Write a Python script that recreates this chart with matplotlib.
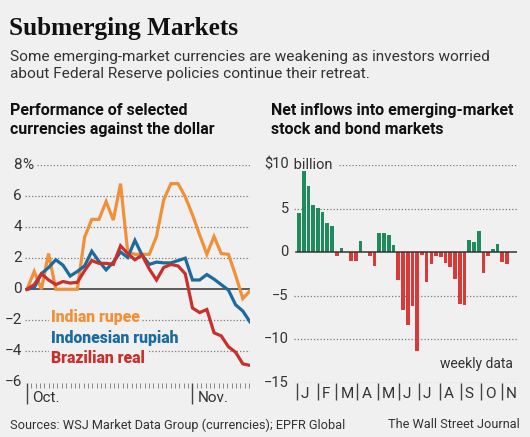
import matplotlib
matplotlib.use("Agg")
import matplotlib.pyplot as plt
import numpy as np

W, H = 530, 437
BG = "#f0f0f0"
C_ORANGE = "#f0913a"
C_BLUE = "#1d6a9c"
C_RED = "#c8302c"
C_GREEN = "#1f8a5c"
C_BAR_RED = "#d83a3a"
C_GRID = "#7a7a7a"
C_TEXT = "#333333"

NARROW = ["Roboto", "DejaVu Sans"]

# left panel: % change vs dollar, trading days from Oct 1
rupee = [0, 1.15, 0, 2.3, 0, 0, 0, 0, 3.35, 4.5, 4.5, 5.65, 4.45, 6.8, 2.4, 2.25,
         2.25, 2.25, 3.4, 5.75, 6.8, 6.8, 5.95, 4.8, 3.5, 2.25, 3.4, 2.3, 2.25, 0.9,
         -0.6, -0.1]
rupiah = [0, 0.1, 1.0, 1.4, 1.9, 1.55, 0.85, 1.15, 1.5, 2.45, 1.8, 1.25, 1.75, 2.4,
          2.05, 3.15, 2.2, 1.6, 1.75, 1.7, 1.7, 1.85, 2.0, 0.6, 0.6, 0.95, 0.65, 0.3,
          -0.05, -1.0, -1.4, -2.1]
real = [0, 0.3, 1.0, 0.6, 0.3, 0.5, 0.4, 0.45, 1.2, 1.85, 1.67, 1.67, 1.6, 2.8, 2.3,
        1.9, 2.2, 1.3, 0.6, 1.4, 1.6, 1.5, 1.0, -1.2, -1.5, -1.3, -2.8, -3.0, -3.7,
        -4.05, -4.8, -4.9]
left_yticks = [8, 6, 4, 2, 0, -2, -4, -6]
oct_idx, nov_idx = 0, 23

# right panel: weekly net inflows, $ billion
flows = [4.5, 9.3, 7.6, 5.4, 5.1, 4.6, 3.4, 3.0, -0.4, 0.5, 0, -1.0, -1.0, 1.3, 0,
         -0.4, -1.6, 2.2, 2.2, 2.0, 0.8, -3.2, -6.6, -8.3, -6.2, -11.3, -0.3, -3.4,
         -1.4, -0.4, -0.6, -1.2, -1.7, -3.1, -5.9, -6.0, 1.4, 1.2, 2.4, -2.4, -0.4,
         0.4, 0.9, -1.1, -1.4]
right_yticks = [10, 5, 0, -5, -10, -15]
months = ["J", "F", "M", "A", "M", "J", "J", "A", "S", "O", "N"]
month_start_day = [0, 31, 59, 90, 120, 151, 181, 212, 243, 273, 304]


def box(x0, y0, x1, y1):
    """pixel box (top-left origin) -> figure fraction rect"""
    return [x0 / W, 1 - y1 / H, (x1 - x0) / W, (y1 - y0) / H]


fig = plt.figure(figsize=(W / 100, H / 100), dpi=100, facecolor=BG)

fig.text(9 / W, 1 - 17 / H, "Submerging Markets", family="Liberation Serif",
         weight="bold", fontsize=18.2, va="top", color="#111111")
fig.text(10 / W, 1 - 50 / H,
         "Some emerging-market currencies are weakening as investors worried\n"
         "about Federal Reserve policies continue their retreat.",
         family=NARROW, fontsize=11.1, va="top", color=C_TEXT, linespacing=1.3)
fig.text(10 / W, 1 - 103 / H, "Performance of selected\ncurrencies against the dollar",
         family=NARROW, weight="bold", fontsize=11.5, va="top", color="#111111",
         linespacing=1.35)
fig.text(271 / W, 1 - 103 / H, "Net inflows into emerging-market\nstock and bond markets",
         family=NARROW, weight="bold", fontsize=11.5, va="top", color="#111111",
         linespacing=1.35)

# ---- left: currencies
ax = fig.add_axes(box(25, 165, 250, 382.5))
ax.set_facecolor("none")
x = np.arange(len(rupee))
ax.set_xlim(-0.28, len(rupee) - 1)
ax.set_ylim(-6, 8)
for v in left_yticks[:-1]:
    if v == 0:
        continue
    start = 0.055 if v == 8 else 0.0
    ax.axhline(v, xmin=start, xmax=1, color=C_GRID, linewidth=0.9,
               linestyle=(0, (1, 1.6)), zorder=0)
ax.axhline(0, color="#333333", linewidth=1.1, zorder=1)
ax.axhline(-6, color="#888888", linewidth=0.6, zorder=1)
for v in left_yticks:
    ax.text(-0.013, v, f"{v}".replace("-", "\u2212"), transform=ax.get_yaxis_transform(),
            ha="right", va="center", fontsize=11, family=NARROW, color=C_TEXT)
ax.text(-0.013, 8, "%", transform=ax.get_yaxis_transform(), ha="left", va="center",
        fontsize=11, family=NARROW, color=C_TEXT)

for series, color in ((rupee, C_ORANGE), (rupiah, C_BLUE), (real, C_RED)):
    ax.plot(x, series, color=color, linewidth=2.3, solid_joinstyle="miter", zorder=3)

for name, color, yv in (("Indian rupee", C_ORANGE, -1.8), ("Indonesian rupiah", C_BLUE, -3.15),
                        ("Brazilian real", C_RED, -4.45)):
    ax.text(3.4, yv, name, color=color, fontsize=11.3, weight="heavy", family=NARROW,
            va="center", bbox=dict(facecolor=BG, edgecolor="none", pad=1.5), zorder=4)

for s in ax.spines.values():
    s.set_visible(False)
ax.set_yticks([])
ax.set_xticks([oct_idx, nov_idx])
ax.set_xticklabels([])
ax.set_xticks(np.arange(0, len(rupee) - 0.9, nov_idx / 38), minor=True)
ax.tick_params(axis="x", which="major", length=15, width=1.0, color="#444444", direction="out")
ax.tick_params(axis="x", which="minor", length=3.5, width=0.6, color="#777777", direction="out")
for idx, lab in ((oct_idx, "Oct."), (nov_idx, "Nov.")):
    ax.annotate(lab, (idx, -6), xytext=(4, -6), textcoords="offset points",
                ha="left", va="top", fontsize=11, family=NARROW, color=C_TEXT)

# ---- right: weekly flows
bx = fig.add_axes(box(294.2, 165, 516.5, 383))
bx.set_facecolor("none")
weeks = np.arange(len(flows))
bx.set_xlim(-1, len(flows) + 1)
bx.set_ylim(-15, 10)
for v in right_yticks:
    if v == 0:
        continue
    start = 0.2 if v == 10 else 0.0
    bx.axhline(v, xmin=start, xmax=1, color=C_GRID, linewidth=0.9,
               linestyle=(0, (1, 1.6)), zorder=0)
colors = [C_GREEN if f >= 0 else C_BAR_RED for f in flows]
bx.bar(weeks, flows, width=0.78, color=colors, zorder=2)
bx.axhline(0, xmin=0.01, color="#333333", linewidth=1.1, zorder=3)
for v in right_yticks:
    lab = "$10" if v == 10 else f"{v}".replace("-", "\u2212")
    bx.text(-0.025, v, lab, transform=bx.get_yaxis_transform(), ha="right", va="center",
            fontsize=10.5, family=NARROW, color=C_TEXT)
bx.text(-0.02, 10, " billion", transform=bx.get_yaxis_transform(), ha="left",
        va="center", fontsize=10.5, family=NARROW, color=C_TEXT)
bx.text(0.985, -12.8, "weekly data", transform=bx.get_yaxis_transform(),
        ha="right", va="center", fontsize=10, family=NARROW, color=C_TEXT)

for s in bx.spines.values():
    s.set_visible(False)
bx.set_yticks([])
mticks = [d / 7 - 0.5 for d in month_start_day]
bx.set_xticks(mticks)
bx.set_xticklabels([])
bx.tick_params(axis="x", which="major", length=12, width=1.0, color="#444444", direction="out")
for t, lab in zip(mticks, months):
    bx.annotate(lab, (t, -15), xytext=(3, -3), textcoords="offset points",
                ha="left", va="top", fontsize=11, family=NARROW, color=C_TEXT)

fig.text(10 / W, 1 - 425 / H, "Sources: WSJ Market Data Group (currencies); EPFR Global",
         family=NARROW, fontsize=9.2, va="center", color=C_TEXT)
fig.text(520 / W, 1 - 425 / H, "The Wall Street Journal", family=NARROW, fontsize=9.2,
         va="center", ha="right", color=C_TEXT)

fig.savefig("out.png", dpi=100, facecolor=BG)
